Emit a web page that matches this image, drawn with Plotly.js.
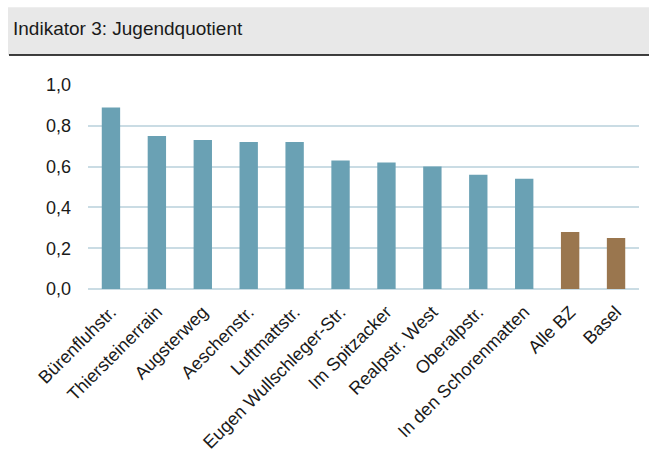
<!DOCTYPE html>
<html>
<head>
<meta charset="utf-8">
<script src="https://cdn.plot.ly/plotly-3.0.1.min.js"></script>
<style>html,body{margin:0;padding:0;background:#fff;}#chart{width:649px;height:452px;}</style>
</head>
<body>
<div id="chart"></div>
<script>
const categories = ["Bürenfluhstr.", "Thiersteinerrain", "Augsterweg", "Aeschenstr.", "Luftmattstr.", "Eugen Wullschleger-Str.", "Im Spitzacker", "Realpstr. West", "Oberalpstr.", "In den Schorenmatten", "Alle BZ", "Basel"];
const values = [0.89, 0.75, 0.73, 0.72, 0.72, 0.63, 0.62, 0.60, 0.56, 0.54, 0.28, 0.25];
const groups = ["bz", "bz", "bz", "bz", "bz", "bz", "bz", "bz", "bz", "bz", "total", "total"];
const tickVals = [0, 0.2, 0.4, 0.6, 0.8, 1.0];
const tickText = ["0,0", "0,2", "0,4", "0,6", "0,8", "1,0"];
const titleText = "Indikator 3: Jugendquotient";

const colorMap = {bz: "#6aa1b4", total: "#9a764e"};
const W = 649, H = 452;
const L = 88, R = 639, T = 85, B = 289.5;
const px = x => (x - L) / (R - L);
const py = y => (B - y) / (B - T);

const trace = {
  type: "bar",
  x: categories,
  y: values,
  marker: {color: groups.map(g => colorMap[g]), line: {width: 0}},
  hoverinfo: "x+y"
};

const layout = {
  width: W, height: H,
  margin: {l: L, r: W - R, t: T, b: H - B, pad: 0},
  paper_bgcolor: "#ffffff",
  plot_bgcolor: "#ffffff",
  bargap: 0.6,
  showlegend: false,
  font: {family: "Liberation Sans, Arial, sans-serif", color: "#1a1a1a"},
  title: {
    text: titleText,
    x: 13 / W, xanchor: "left", xref: "container",
    y: 1 - 28 / H, yanchor: "middle", yref: "container",
    font: {size: 19, family: "Liberation Sans, Arial, sans-serif", color: "#1a1a1a"}
  },
  xaxis: {
    type: "category",
    tickangle: -45,
    tickfont: {size: 18},
    showgrid: false,
    showline: false,
    zeroline: false,
    ticks: "",
    ticklabelstandoff: 8,
    automargin: false
  },
  yaxis: {
    range: [0, 1.0],
    tickvals: tickVals,
    ticktext: tickText,
    tickfont: {size: 18},
    showgrid: true,
    gridcolor: "#cadce4",
    gridwidth: 2,
    zeroline: true,
    zerolinecolor: "#cadce4",
    zerolinewidth: 2,
    showline: false,
    ticks: "",
    ticklabelstandoff: 16,
    automargin: false,
    fixedrange: true
  },
  shapes: [
    {type: "rect", xref: "paper", yref: "paper", x0: px(8), x1: px(649), y0: py(55), y1: py(7),
     fillcolor: "#e8e8e8", line: {width: 0}, layer: "below"},
    {type: "line", xref: "paper", yref: "paper", x0: px(9), x1: px(649), y0: py(55), y1: py(55),
     line: {color: "#000000", width: 1.5}}
  ]
};

Plotly.newPlot("chart", [trace], layout, {displayModeBar: false, staticPlot: true});
</script>
</body>
</html>
